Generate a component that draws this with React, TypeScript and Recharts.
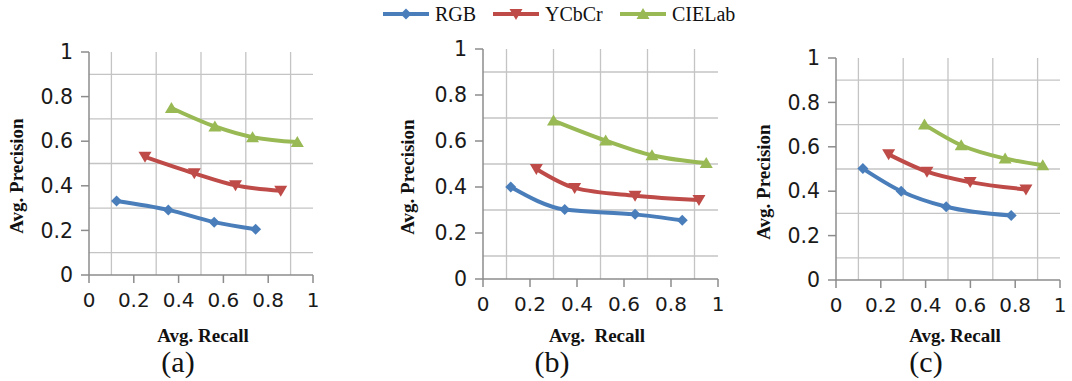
import React from 'react';
import { LineChart, Line, XAxis, YAxis, CartesianGrid } from 'recharts';

// ---- data ----
const seriesNames = ['RGB', 'YCbCr', 'CIELab'];
const seriesColors = ['#4A7EBB', '#BE4B48', '#98B954'];
const tickValues = [0, 0.2, 0.4, 0.6, 0.8, 1];
const gridValues = [0.1, 0.3, 0.5, 0.7, 0.9];

const aRGB = [
  { x: 0.123, y: 0.332 }, { x: 0.354, y: 0.292 }, { x: 0.559, y: 0.237 }, { x: 0.744, y: 0.205 },
];
const aYCbCr = [
  { x: 0.25, y: 0.53 }, { x: 0.47, y: 0.456 }, { x: 0.654, y: 0.402 }, { x: 0.856, y: 0.378 },
];
const aCIELab = [
  { x: 0.368, y: 0.749 }, { x: 0.562, y: 0.666 }, { x: 0.73, y: 0.618 }, { x: 0.93, y: 0.596 },
];

const bRGB = [
  { x: 0.118, y: 0.4 }, { x: 0.348, y: 0.302 }, { x: 0.647, y: 0.281 }, { x: 0.848, y: 0.255 },
];
const bYCbCr = [
  { x: 0.227, y: 0.478 }, { x: 0.39, y: 0.396 }, { x: 0.647, y: 0.362 }, { x: 0.919, y: 0.343 },
];
const bCIELab = [
  { x: 0.3, y: 0.689 }, { x: 0.522, y: 0.602 }, { x: 0.719, y: 0.538 }, { x: 0.95, y: 0.504 },
];

const cRGB = [
  { x: 0.12, y: 0.502 }, { x: 0.291, y: 0.4 }, { x: 0.492, y: 0.33 }, { x: 0.782, y: 0.291 },
];
const cYCbCr = [
  { x: 0.235, y: 0.566 }, { x: 0.406, y: 0.488 }, { x: 0.599, y: 0.441 }, { x: 0.848, y: 0.408 },
];
const cCIELab = [
  { x: 0.395, y: 0.7 }, { x: 0.559, y: 0.607 }, { x: 0.755, y: 0.547 }, { x: 0.923, y: 0.517 },
];

const panelData = [
  [aRGB, aYCbCr, aCIELab],
  [bRGB, bYCbCr, bCIELab],
  [cRGB, cYCbCr, cCIELab],
];
const xTitles = ['Avg. Recall', 'Avg.  Recall', 'Avg. Recall'];
const yTitle = 'Avg. Precision';
const captions = ['(a)', '(b)', '(c)'];

// ---- layout ----
const boxes = [
  { x0: 89, x1: 313, yTop: 52, yBot: 275, xTitleX: 203, yTitleX: 16, yTitleY: 176, capX: 178 },
  { x0: 483, x1: 718, yTop: 49, yBot: 279, xTitleX: 597, yTitleX: 407, yTitleY: 177, capX: 552 },
  { x0: 836, x1: 1060, yTop: 58, yBot: 280, xTitleX: 955, yTitleX: 763, yTitleY: 182, capX: 926 },
];

const markerShape = (idx: number, cx: number, cy: number, color: string, key?: any) => {
  if (idx === 0) {
    const h = 5.5;
    return <polygon key={key} points={`${cx},${cy - h} ${cx + h},${cy} ${cx},${cy + h} ${cx - h},${cy}`} fill={color} />;
  }
  if (idx === 1) {
    return <polygon key={key} points={`${cx - 6.5},${cy - 5} ${cx + 6.5},${cy - 5} ${cx},${cy + 6}`} fill={color} />;
  }
  return <polygon key={key} points={`${cx - 6.5},${cy + 5} ${cx + 6.5},${cy + 5} ${cx},${cy - 6}`} fill={color} />;
};

const makeDot = (idx: number) => (props: any) => {
  const { cx, cy, index } = props;
  if (cx == null || cy == null) return <g key={`e${index}`} />;
  return markerShape(idx, cx, cy, seriesColors[idx], `d${idx}-${index}`);
};

const YW = 60;
const TOPM = 15;
const RIGHTM = 20;
const XH = 40;

function Panel({ p }: { p: number }) {
  const b = boxes[p];
  const w = b.x1 - b.x0 + YW + RIGHTM;
  const h = b.yBot - b.yTop + TOPM + XH;
  return (
    <div style={{ position: 'absolute', left: b.x0 - YW, top: b.yTop - TOPM, width: w, height: h }}>
      <LineChart width={w} height={h} margin={{ top: TOPM, right: RIGHTM, left: 0, bottom: 0 }}>
        <CartesianGrid stroke="#C4C4C4" strokeWidth={1.3} horizontalValues={gridValues} verticalValues={gridValues} />
        <XAxis
          type="number"
          dataKey="x"
          domain={[0, 1]}
          ticks={tickValues}
          tickSize={8}
          tickMargin={10}
          height={XH}
          stroke="#8C8C8C"
          strokeWidth={1.5}
          tick={{ fill: '#1a1a1a', fontSize: 20, fontFamily: 'DejaVu Sans' }}
          allowDataOverflow
        />
        <YAxis
          type="number"
          dataKey="y"
          domain={[0, 1]}
          ticks={tickValues}
          tickSize={8}
          tickMargin={8}
          width={YW}
          stroke="#8C8C8C"
          strokeWidth={1.5}
          tick={{ fill: '#1a1a1a', fontSize: 20.5, fontFamily: 'DejaVu Sans' }}
          allowDataOverflow
        />
        {panelData[p].map((d, i) => (
          <Line
            key={seriesNames[i]}
            data={d}
            dataKey="y"
            name={seriesNames[i]}
            type="monotone"
            stroke={seriesColors[i]}
            strokeWidth={4}
            dot={makeDot(i)}
            activeDot={false}
            isAnimationActive={false}
          />
        ))}
      </LineChart>
    </div>
  );
}

const titleStyle: React.CSSProperties = {
  position: 'absolute',
  fontFamily: '"Liberation Serif", serif',
  fontWeight: 'bold',
  fontSize: 19,
  color: '#111',
  whiteSpace: 'pre',
  lineHeight: 1,
};

const legendItems = [
  { lineX: 383, textX: 435 },
  { lineX: 493, textX: 545 },
  { lineX: 620, textX: 672 },
];

export default function App() {
  return (
    <div style={{ position: 'absolute', left: 0, top: 0, width: 1072, height: 381, background: '#fff', overflow: 'hidden' }}>
      {/* legend */}
      <svg style={{ position: 'absolute', left: 0, top: 0 }} width={1072} height={30}>
        {legendItems.map((it, i) => (
          <g key={seriesNames[i]}>
            <line x1={it.lineX} x2={it.lineX + 46} y1={14} y2={14} stroke={seriesColors[i]} strokeWidth={4} />
            {markerShape(i, it.lineX + 23, 14, seriesColors[i])}
            <text x={it.textX} y={21} fontFamily='"Liberation Serif", serif' fontSize={20} fill="#111">
              {seriesNames[i]}
            </text>
          </g>
        ))}
      </svg>
      {boxes.map((b, p) => (
        <React.Fragment key={p}>
          <Panel p={p} />
          <div style={{ ...titleStyle, left: b.xTitleX, top: 335, transform: 'translate(-50%, -50%)' }}>{xTitles[p]}</div>
          <div
            style={{
              ...titleStyle,
              left: b.yTitleX,
              top: b.yTitleY,
              transform: 'translate(-50%, -50%) rotate(-90deg)',
            }}
          >
            {yTitle}
          </div>
          <div
            style={{
              position: 'absolute',
              left: b.capX,
              top: 362,
              transform: 'translate(-50%, -50%)',
              fontFamily: '"Liberation Serif", serif',
              fontSize: 30,
              lineHeight: 1,
              color: '#111',
            }}
          >
            {captions[p]}
          </div>
        </React.Fragment>
      ))}
    </div>
  );
}
